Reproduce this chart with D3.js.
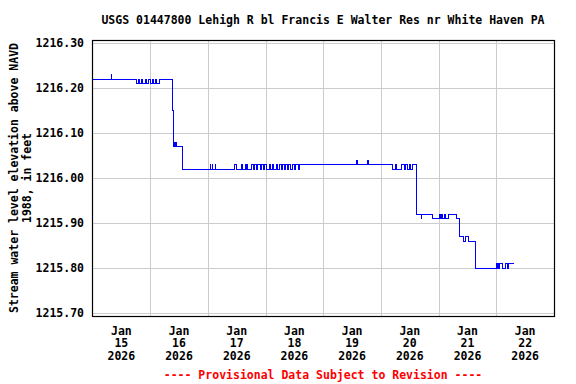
<!DOCTYPE html>
<html>
<head>
<meta charset="utf-8">
<script src="https://cdn.jsdelivr.net/npm/d3@7"></script>
<style>
  html, body { margin: 0; padding: 0; background: #fff; }
  svg { display: block; }
  text { font-family: "DejaVu Sans Mono", "Liberation Mono", monospace; font-weight: bold; font-size: 11.5px; }
</style>
</head>
<body>
<script>
(() => {
  const title = 'USGS 01447800 Lehigh R bl Francis E Walter Res nr White Haven PA';
  const yTitle = ['Stream water level elevation above NAVD', '1988, in feet'];
  const footer = '---- Provisional Data Subject to Revision ----';

  const yTicks = [1215.70, 1215.80, 1215.90, 1216.00, 1216.10, 1216.20, 1216.30];
  const dayTicks = ['2026-01-15', '2026-01-16', '2026-01-17', '2026-01-18',
    '2026-01-19', '2026-01-20', '2026-01-21', '2026-01-22'];

  // change points of the gage height (value holds until next stamp)
  const stamps = [
    '15 00:00', '15 07:45', '15 08:00', '15 18:30', '15 19:00', '15 19:30', '15 20:30',
    '15 21:00', '15 22:00', '15 22:30', '15 23:30', '16 00:00', '16 01:00', '16 01:30',
    '16 02:15', '16 02:30', '16 03:45', '16 09:15', '16 09:30', '16 09:45', '16 10:00',
    '16 10:15', '16 10:30', '16 10:45', '16 11:00', '16 13:30', '17 01:00', '17 01:15',
    '17 01:45', '17 02:00', '17 03:00', '17 03:15', '17 11:15', '17 12:00', '17 14:00',
    '17 14:15', '17 15:30', '17 15:45', '17 16:15', '17 16:30', '17 18:15', '17 19:00',
    '17 19:30', '17 20:15', '17 20:45', '17 21:45', '17 22:15', '17 23:15', '17 23:45',
    '18 00:30', '18 01:30', '18 02:15', '18 02:45', '18 03:15', '18 04:30', '18 05:00',
    '18 06:00', '18 06:45', '18 07:15', '18 08:00', '18 08:30', '18 09:15', '18 09:45',
    '18 10:30', '18 11:00', '18 12:00', '18 12:30', '18 13:30', '18 14:15', '19 14:00',
    '19 14:15', '19 18:30', '19 18:45', '20 05:00', '20 06:15', '20 06:30', '20 08:45',
    '20 09:45', '20 10:15', '20 11:15', '20 11:45', '20 12:30', '20 13:00', '20 14:45',
    '20 16:45', '20 17:00', '20 21:15', '21 00:30', '21 00:45', '21 01:15', '21 01:30',
    '21 02:15', '21 02:45', '21 04:00', '21 07:15', '21 08:30', '21 08:45', '21 10:15',
    '21 11:15', '21 12:15', '21 15:30', '22 00:00', '22 00:30', '22 00:45', '22 01:15',
    '22 01:30', '22 02:45', '22 03:45', '22 04:45', '22 05:15', '22 07:30'
  ];
  const levels = [
    1216.22, 1216.23, 1216.22, 1216.21, 1216.22, 1216.21, 1216.22,
    1216.21, 1216.22, 1216.21, 1216.22, 1216.21, 1216.22, 1216.21,
    1216.22, 1216.21, 1216.22, 1216.15, 1216.07, 1216.08, 1216.07,
    1216.08, 1216.07, 1216.08, 1216.07, 1216.02, 1216.03, 1216.02,
    1216.03, 1216.02, 1216.03, 1216.02, 1216.03, 1216.02, 1216.03,
    1216.02, 1216.03, 1216.02, 1216.03, 1216.02, 1216.03, 1216.02,
    1216.03, 1216.02, 1216.03, 1216.02, 1216.03, 1216.02, 1216.03,
    1216.02, 1216.03, 1216.02, 1216.03, 1216.02, 1216.03, 1216.02,
    1216.03, 1216.02, 1216.03, 1216.02, 1216.03, 1216.02, 1216.03,
    1216.02, 1216.03, 1216.02, 1216.03, 1216.02, 1216.03, 1216.04,
    1216.03, 1216.04, 1216.03, 1216.02, 1216.03, 1216.02, 1216.03,
    1216.02, 1216.03, 1216.02, 1216.03, 1216.02, 1216.03, 1215.92,
    1215.91, 1215.92, 1215.91, 1215.92, 1215.91, 1215.92, 1215.91,
    1215.92, 1215.91, 1215.92, 1215.91, 1215.88, 1215.87, 1215.86,
    1215.87, 1215.86, 1215.80, 1215.81, 1215.80, 1215.81, 1215.80,
    1215.81, 1215.80, 1215.81, 1215.80, 1215.81, 1215.81
  ];

  const W = 576;
  const H = 384;
  const frame = { left: 92, right: 554, top: 40, bottom: 316 };

  const parseStamp = d3.utcParse('%Y-%m-%d %H:%M');
  const parseDay = d3.utcParse('%Y-%m-%d');
  const data = stamps.map((s, i) => ({ t: parseStamp('2026-01-' + s), v: levels[i] }));
  const days = dayTicks.map(parseDay);
  const end = d3.utcDay.offset(days[days.length - 1], 1);

  const x = d3.scaleUtc().domain([days[0], end]).range([frame.left + 0.5, frame.right]);
  const y = d3.scaleLinear().domain([1215.70, 1216.30]).range([313, 42.5]);
  const px = v => Math.round(v) + 0.5;

  const svg = d3.select('body').append('svg').attr('width', W).attr('height', H);

  // grid
  svg.append('g')
    .selectAll('line')
    .data(yTicks)
    .join('line')
    .attr('x1', frame.left).attr('x2', frame.right)
    .attr('y1', d => px(y(d))).attr('y2', d => px(y(d)))
    .attr('stroke', '#cccccc');
  svg.append('g')
    .selectAll('line')
    .data(days.slice(1))
    .join('line')
    .attr('x1', d => px(x(d))).attr('x2', d => px(x(d)))
    .attr('y1', frame.top).attr('y2', frame.bottom)
    .attr('stroke', '#cccccc');

  // series
  const line = d3.line()
    .x(d => x(d.t))
    .y(d => px(y(d.v)))
    .curve(d3.curveStepAfter);
  svg.append('path')
    .datum(data)
    .attr('d', line)
    .attr('fill', 'none')
    .attr('stroke', '#0000ff')
    .attr('stroke-width', 1)
    .attr('shape-rendering', 'crispEdges');

  // frame
  svg.append('rect')
    .attr('x', frame.left + 0.5).attr('y', frame.top + 0.5)
    .attr('width', frame.right - frame.left).attr('height', frame.bottom - frame.top)
    .attr('fill', 'none').attr('stroke', '#000').attr('stroke-width', 1.2);

  // y tick labels
  svg.append('g')
    .selectAll('text')
    .data(yTicks)
    .join('text')
    .attr('x', 84)
    .attr('y', d => y(d) + 4)
    .attr('text-anchor', 'end')
    .text(d => d.toFixed(2));

  // x tick labels, centred at noon
  const fmt = [d3.utcFormat('%b'), d => String(d.getUTCDate()), d3.utcFormat('%Y')];
  const xl = svg.append('g')
    .selectAll('text')
    .data(days)
    .join('text')
    .attr('text-anchor', 'middle')
    .attr('transform', d => `translate(${x(d3.utcHour.offset(d, 12))},0)`);
  fmt.forEach((f, i) => {
    xl.append('tspan').attr('x', 0).attr('y', 334.5 + i * 12.9).text(f);
  });

  // y title
  const yt = svg.append('text')
    .attr('text-anchor', 'middle')
    .attr('transform', 'translate(0,178) rotate(-90)');
  yTitle.forEach((s, i) => {
    yt.append('tspan').attr('x', 0).attr('y', 18 + i * 12.6).text(s);
  });

  svg.append('text')
    .attr('x', 323).attr('y', 24)
    .attr('text-anchor', 'middle')
    .text(title);

  svg.append('text')
    .attr('x', 323).attr('y', 378.5)
    .attr('text-anchor', 'middle')
    .attr('fill', '#ff0000')
    .text(footer);
})();
</script>
</body>
</html>
